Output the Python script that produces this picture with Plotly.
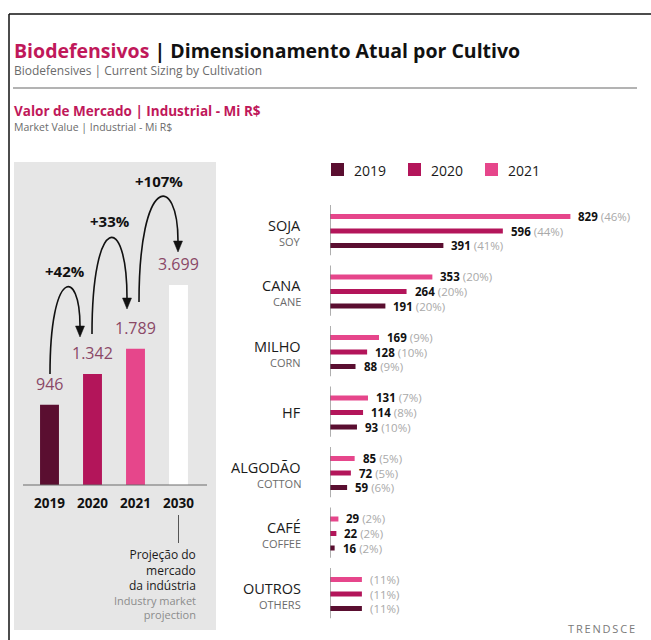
import math
import plotly.graph_objects as go

W, H = 651, 640
FONT = "Open Sans"

# Industrial market value (R$ million)
years = ["2019", "2020", "2021", "2030"]
market_total = [946, 1342, 1789, 3699]

# Current sizing by crop
crops = ["SOJA", "CANA", "MILHO", "HF", "ALGODÃO", "CAFÉ", "OUTROS"]
crops_en = ["SOY", "CANE", "CORN", "", "COTTON", "COFFEE", "OTHERS"]
series = ["2019", "2020", "2021"]
value_2019 = [391, 191, 88, 93, 59, 16, 110]
value_2020 = [596, 264, 128, 114, 72, 22, 110]
value_2021 = [829, 353, 169, 131, 85, 29, 110]
share_2019 = [41, 20, 9, 10, 6, 2, 11]
share_2020 = [44, 20, 10, 8, 5, 2, 11]
share_2021 = [46, 20, 9, 7, 5, 2, 11]
value_shown = [True, True, True, True, True, True, False]

colors = {"2019": "#5a0e30", "2020": "#b3155a", "2021": "#e6468b", "2030": "#ffffff"}
CRIMSON = "#c0185a"
GRAY_TXT = "#6b6b6b"
LIGHT_TXT = "#a9a9a9"


def X(px):
    return px / W


def Y(py):
    return 1 - py / H


def fmt(v):
    return f"{v:,}".replace(",", ".")


fig = go.Figure()

# ---- left panel: total market, log scale so the 2030 projection fits ----
LOG_LO, PX_PER_DECADE = 2.578, 202.0
LEFT_TOP, LEFT_BASE = 161, 485
year_idx = list(range(len(years)))
fig.add_trace(go.Bar(
    x=year_idx, y=market_total, width=0.44,
    marker=dict(color=[colors[y] for y in years], line=dict(width=0)),
    xaxis="x", yaxis="y", hoverinfo="skip", showlegend=False,
))

# ---- right panel: crops ----
by_series = {
    "2019": (value_2019, share_2019),
    "2020": (value_2020, share_2020),
    "2021": (value_2021, share_2021),
}
slot = {"2021": -0.24, "2020": 0.0, "2019": 0.24}
GROUP_PX = 60.5
annotations = []
for s in series:
    vals, shares = by_series[s]
    pos = [k + slot[s] for k in range(len(crops))]
    fig.add_trace(go.Bar(
        x=vals, y=pos, orientation="h", width=5 / GROUP_PX,
        marker=dict(color=colors[s], line=dict(width=0)),
        xaxis="x2", yaxis="y2", hoverinfo="skip", showlegend=False,
    ))
    for v, sh, p, shown in zip(vals, shares, pos, value_shown):
        txt = f"<span style='color:{LIGHT_TXT}'>({sh}%)</span>"
        if shown:
            txt = f"<b>{v}</b> " + txt
        annotations.append(dict(
            x=v, y=p, xref="x2", yref="y2", text=txt, showarrow=False,
            xanchor="left", yanchor="middle", xshift=6,
            font=dict(family=FONT, size=11.5, color="#111111"),
        ))

# crop names and group axis lines
shapes = []
for k, (pt, en) in enumerate(zip(crops, crops_en)):
    shapes.append(dict(type="line", xref="x2", yref="y2", x0=0, x1=0,
                       y0=k - 0.43, y1=k + 0.40,
                       line=dict(color="#7a7a7a", width=1.2)))
    annotations.append(dict(
        x=X(303), y=k, xref="paper", yref="y2", text=pt, showarrow=False,
        xanchor="right", yanchor="middle", yshift=6 if en else 0,
        font=dict(family=FONT, size=14.5, color="#1a1a1a"),
    ))
    if en:
        annotations.append(dict(
            x=X(303), y=k, xref="paper", yref="y2", text=en, showarrow=False,
            xanchor="right", yanchor="middle", yshift=-10,
            font=dict(family=FONT, size=11, color=GRAY_TXT),
        ))

# legend
for i, s in enumerate(series):
    x0 = 331 + i * 77
    shapes.append(dict(type="rect", xref="paper", yref="paper",
                       x0=X(x0), x1=X(x0 + 13), y0=Y(176), y1=Y(163),
                       fillcolor=colors[s], line=dict(width=0)))
    annotations.append(dict(
        x=X(x0 + 21), y=Y(170), xref="paper", yref="paper", text=s,
        showarrow=False, xanchor="left", yanchor="middle",
        font=dict(family=FONT, size=14, color="#1a1a1a"),
    ))

# left panel labels: values above bars, years under the baseline
for i, (yr, v) in enumerate(zip(years, market_total)):
    annotations.append(dict(
        x=i, y=math.log10(v), xref="x", yref="y", text=fmt(v),
        showarrow=False, xanchor="center", yanchor="bottom", yshift=8,
        font=dict(family=FONT, size=16, color="#8a4866"),
    ))
    annotations.append(dict(
        x=i, y=Y(503), xref="x", yref="paper", text=f"<b>{yr}</b>",
        showarrow=False, xanchor="center", yanchor="middle",
        font=dict(family=FONT, size=13.5, color="#111111"),
    ))

# growth arrows between consecutive years
arcs = [  # start x, start y, tip x, tip y, apex y (px)
    (50, 374, 80, 326, 288),
    (92, 334, 127, 298, 238),
    (139, 302, 178, 241, 198),
]
for (sx, sy, tx, ty, ay), a, b in zip(arcs, market_total[:-1], market_total[1:]):
    cy = (8 * ay - sy - ty) / 6
    shapes.append(dict(
        type="path", xref="paper", yref="paper",
        path=f"M {X(sx)},{Y(sy)} C {X(sx)},{Y(cy)} {X(tx)},{Y(cy)} {X(tx)},{Y(ty)}",
        line=dict(color="#111111", width=1.6),
    ))
    shapes.append(dict(
        type="path", xref="paper", yref="paper",
        path=f"M {X(tx - 4.5)},{Y(ty)} L {X(tx + 4.5)},{Y(ty)} L {X(tx)},{Y(ty + 11)} Z",
        fillcolor="#111111", line=dict(color="#111111", width=0.5),
    ))
    pct = round((b / a - 1) * 100)
    annotations.append(dict(
        x=X((sx + tx) / 2), y=Y(ay - 17), xref="paper", yref="paper",
        text=f"<b>+{pct}%</b>", showarrow=False,
        xanchor="center", yanchor="middle",
        font=dict(family=FONT, size=15, color="#111111"),
    ))

# projection note under 2030
shapes.append(dict(type="line", xref="paper", yref="paper",
                   x0=X(178.5), x1=X(178.5), y0=Y(515), y1=Y(543),
                   line=dict(color="#555555", width=1)))
annotations.append(dict(
    x=X(198), y=Y(570), xref="paper", yref="paper",
    text="Projeção do<br>mercado<br>da indústria", showarrow=False,
    xanchor="right", yanchor="middle", align="right",
    font=dict(family=FONT, size=12, color="#1a1a1a"),
))
annotations.append(dict(
    x=X(198), y=Y(607), xref="paper", yref="paper",
    text="Industry market<br>projection", showarrow=False,
    xanchor="right", yanchor="middle", align="right",
    font=dict(family=FONT, size=11, color="#8c8c8c"),
))

# panel background, baseline, frame, rule
shapes = [
    dict(type="rect", xref="paper", yref="paper", x0=X(14), x1=X(216),
         y0=Y(630), y1=Y(162), fillcolor="#e6e6e6", line=dict(width=0),
         layer="below"),
    dict(type="line", xref="paper", yref="paper", x0=X(23), x1=X(207),
         y0=Y(LEFT_BASE), y1=Y(LEFT_BASE), line=dict(color="#6a6a6a", width=1)),
    dict(type="line", xref="paper", yref="paper", x0=X(9), x1=1,
         y0=Y(14), y1=Y(14), line=dict(color="#111111", width=1.5)),
    dict(type="line", xref="paper", yref="paper", x0=X(9), x1=X(9),
         y0=Y(14), y1=0, line=dict(color="#111111", width=1.5)),
    dict(type="line", xref="paper", yref="paper", x0=X(13), x1=X(637),
         y0=Y(88), y1=Y(88), line=dict(color="#9a9a9a", width=1.5)),
] + shapes

# headings
annotations += [
    dict(x=X(12), y=Y(50), xref="paper", yref="paper", showarrow=False,
         xanchor="left", yanchor="middle",
         text=f"<b><span style='color:{CRIMSON}'>Biodefensivos</span> | Dimensionamento Atual por Cultivo</b>",
         font=dict(family=FONT, size=19.5, color="#111111")),
    dict(x=X(12), y=Y(70), xref="paper", yref="paper", showarrow=False,
         xanchor="left", yanchor="middle",
         text="Biodefensives | Current Sizing by Cultivation",
         font=dict(family=FONT, size=12, color=GRAY_TXT)),
    dict(x=X(12), y=Y(111), xref="paper", yref="paper", showarrow=False,
         xanchor="left", yanchor="middle",
         text="<b>Valor de Mercado | Industrial - Mi R$</b>",
         font=dict(family=FONT, size=13.5, color=CRIMSON)),
    dict(x=X(12), y=Y(127), xref="paper", yref="paper", showarrow=False,
         xanchor="left", yanchor="middle",
         text="Market Value | Industrial - Mi R$",
         font=dict(family=FONT, size=10.5, color=GRAY_TXT)),
    dict(x=X(637), y=Y(628), xref="paper", yref="paper", showarrow=False,
         xanchor="right", yanchor="middle",
         text="T\u2009R\u2009E\u2009N\u2009D\u2009S\u2009C\u2009E",
         font=dict(family=FONT, size=11, color="#7a7a7a")),
]

fig.update_layout(
    width=W, height=H, margin=dict(l=0, r=0, t=0, b=0),
    paper_bgcolor="white", plot_bgcolor="rgba(0,0,0,0)",
    barmode="overlay", showlegend=False,
    font=dict(family=FONT),
    xaxis=dict(domain=[X(28), X(200)], anchor="y", visible=False,
               range=[-0.5, 3.5], fixedrange=True),
    yaxis=dict(domain=[Y(LEFT_BASE), Y(LEFT_TOP)], anchor="x", visible=False,
               type="log",
               range=[LOG_LO, LOG_LO + (LEFT_BASE - LEFT_TOP) / PX_PER_DECADE]),
    xaxis2=dict(domain=[X(330), X(640)], anchor="y2", visible=False,
                range=[0, 310 / 0.29]),
    yaxis2=dict(domain=[Y(200.75 + 7 * GROUP_PX), Y(200.75)], anchor="x2",
                visible=False, range=[6.5, -0.5]),
    shapes=shapes, annotations=annotations,
)

fig.write_html("out.html")
